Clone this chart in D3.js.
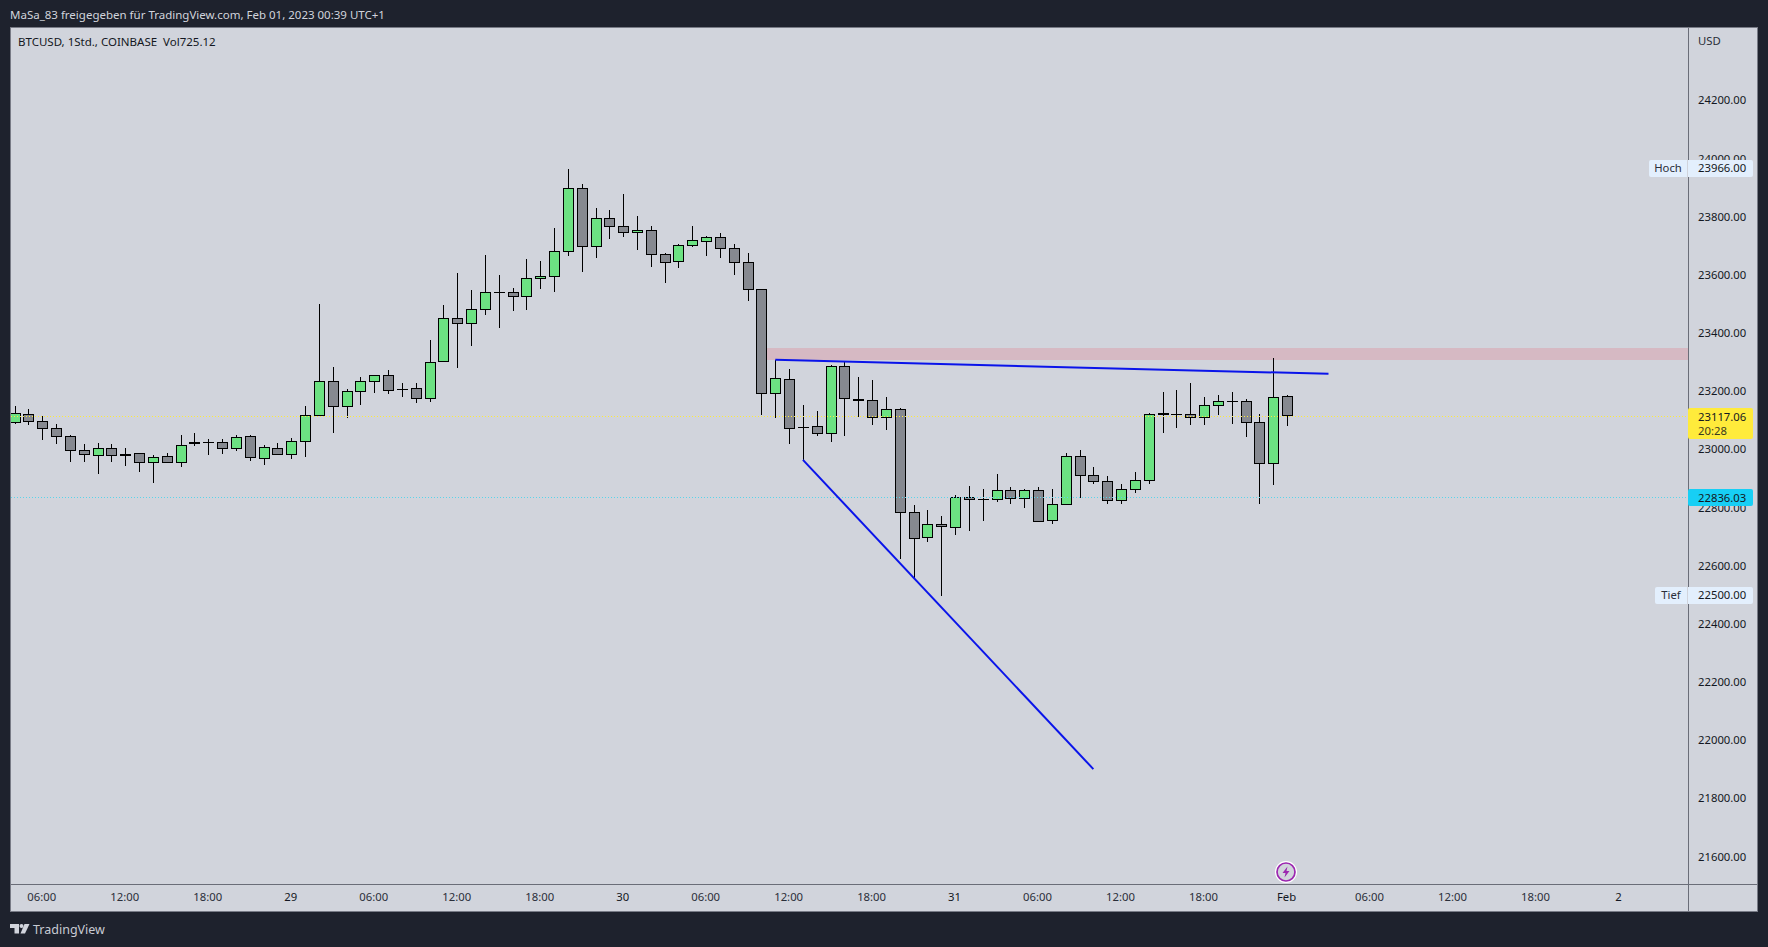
<!DOCTYPE html>
<html>
<head>
<meta charset="utf-8">
<title>BTCUSD 1Std.</title>
<script src="https://cdn.jsdelivr.net/npm/d3@7"></script>
<style>
	html, body { margin: 0; padding: 0; background: #1e222d; }
	svg { display: block; font-family: "Noto Sans", sans-serif; }
</style>
</head>
<body>
<svg id="chart" width="1768" height="947"></svg>
<script>
// candles, 1 hour each, first one is Jan 28 04:00
var startTime = Date.UTC(2023, 0, 28, 4);
var opens = [23095,23124,23100,23076,23048,23000,22982,23007,22986,22990,
	22958,22979,22958,23020,23028,23028,23006,23048,22971,23007,
	22985,23030,23119,23237,23150,23202,23236,23258,23211,23213,
	23178,23303,23454,23436,23484,23543,23543,23528,23590,23597,
	23683,23901,23700,23798,23770,23746,23756,23674,23649,23704,
	23717,23732,23695,23646,23554,23195,23244,23079,23083,23057,
	23289,23178,23172,23110,23141,22787,22700,22746,22734,22839,
	22832,22830,22863,22834,22863,22758,22813,22979,22914,22894,
	22827,22865,22896,23128,23124,23124,23112,23154,23169,23169,
	23096,22954,23186];
var highs = [23153,23142,23117,23091,23053,23022,23025,23022,23008,22990,
	22984,22991,23053,23060,23039,23039,23053,23053,23018,23025,
	23043,23153,23503,23287,23211,23252,23258,23276,23232,23232,
	23378,23500,23610,23551,23672,23603,23558,23658,23651,23764,
	23966,23916,23833,23826,23881,23806,23771,23679,23709,23771,
	23737,23747,23709,23679,23554,23311,23280,23156,23135,23293,
	23304,23252,23242,23183,23146,22812,22795,22774,22847,22877,
	22867,22919,22874,22867,22874,22867,22991,23001,22943,22912,
	22884,22926,23128,23201,23208,23232,23183,23190,23201,23177,
	23125,23318,23190];
var lows = [23091,23087,23036,23022,22960,22960,22919,22960,22946,22926,
	22888,22958,22943,23015,22984,22987,22998,22963,22950,22985,
	22970,22977,23119,23060,23111,23156,23197,23194,23183,23163,
	23166,23303,23283,23359,23465,23421,23479,23483,23555,23544,
	23668,23613,23661,23727,23734,23689,23630,23575,23627,23699,
	23668,23661,23603,23514,23122,23111,23022,22967,23049,23029,
	23049,23114,23087,23070,22627,22561,22685,22500,22709,22723,
	22757,22822,22816,22802,22755,22747,22813,22836,22884,22816,
	22816,22853,22884,23060,23077,23087,23087,23122,23091,23046,
	22816,22881,23084];
var closes = [23127,23099,23075,23047,22999,22985,23007,22982,22982,22958,
	22976,22958,23017,23028,23028,23006,23045,22975,23010,22985,
	23031,23120,23237,23150,23203,23237,23258,23205,23206,23178,
	23303,23454,23436,23485,23543,23543,23528,23591,23598,23684,
	23901,23700,23798,23769,23746,23756,23673,23645,23705,23722,
	23732,23693,23645,23552,23195,23248,23075,23079,23057,23289,
	23178,23171,23110,23141,22786,22696,22746,22738,22839,22830,
	22832,22863,22834,22863,22755,22814,22979,22913,22892,22827,
	22866,22897,23124,23123,23124,23112,23155,23169,23169,23095,
	22954,23182,23117];

var priceTicks = [24200,24000,23800,23600,23400,23200,23000,22800,22600,22400,22200,22000,21800,21600];
var timeTicks = ["2023-01-28T06:00Z","2023-01-28T12:00Z","2023-01-28T18:00Z","2023-01-29T00:00Z","2023-01-29T06:00Z",
	"2023-01-29T12:00Z","2023-01-29T18:00Z","2023-01-30T00:00Z","2023-01-30T06:00Z","2023-01-30T12:00Z",
	"2023-01-30T18:00Z","2023-01-31T00:00Z","2023-01-31T06:00Z","2023-01-31T12:00Z","2023-01-31T18:00Z",
	"2023-02-01T00:00Z","2023-02-01T06:00Z","2023-02-01T12:00Z","2023-02-01T18:00Z","2023-02-02T00:00Z"];
var timeLabels = ["06:00","12:00","18:00","29","06:00","12:00","18:00","30","06:00","12:00",
	"18:00","31","06:00","12:00","18:00","Feb","06:00","12:00","18:00","2"];

// drawings: [hours after startTime, price]
var resistanceLine = [[55, 23311], [95, 23263]];
var supportLine = [[57, 22967], [78, 21904]];
var zoneTop = 23352, zoneBottom = 23311, zoneStart = 54;

var lastPrice = 23117.06, countdown = "20:28", lowLevel = 22836.03;
var highPrice = 23966, lowPrice = 22500;

var fmt = d3.format(".2f");
var paneLeft = 11, paneRight = 1688, paneTop = 28, paneBottom = 884, axisRight = 1757, axisBottom = 911;
var axisFont = 11.3;

var x = d3.scaleUtc()
	.domain([new Date("2023-01-28T06:00Z"), new Date("2023-02-01T00:00Z")])
	.range([42.3, 1287]);
var y = d3.scaleLinear().domain([21600, 24200]).range([857.5, 101.3]);
function timeAt(h) { return new Date(startTime + h * 3600000); }

var svg = d3.select("#chart");
svg.append("rect").attr("x", paneLeft - 1).attr("y", paneTop - 1)
	.attr("width", axisRight - paneLeft + 2).attr("height", axisBottom - paneTop + 2)
	.attr("fill", "#787b86");
svg.append("rect").attr("x", paneLeft).attr("y", paneTop)
	.attr("width", axisRight - paneLeft).attr("height", axisBottom - paneTop)
	.attr("fill", "#d1d4dc");

svg.append("defs").append("clipPath").attr("id", "pane").append("rect")
	.attr("x", paneLeft).attr("y", paneTop)
	.attr("width", paneRight - paneLeft).attr("height", paneBottom - paneTop);
var pane = svg.append("g").attr("clip-path", "url(#pane)");

// zone behind candles
pane.append("rect")
	.attr("x", Math.round(x(timeAt(zoneStart))))
	.attr("y", Math.round(y(zoneTop)))
	.attr("width", paneRight - Math.round(x(timeAt(zoneStart))))
	.attr("height", Math.round(y(zoneBottom)) - Math.round(y(zoneTop)))
	.attr("fill", "#f23645").attr("opacity", 0.17);

var candles = pane.selectAll("g.candle").data(opens).enter().append("g").attr("class", "candle");
candles.each(function(o, i) {
	var g = d3.select(this);
	var cx = Math.round(x(timeAt(i)));
	var yTop = Math.round(y(Math.max(o, closes[i])));
	var yBot = Math.round(y(Math.min(o, closes[i])));
	var h = Math.max(1, yBot - yTop);
	g.append("rect").attr("x", cx).attr("width", 1)
		.attr("y", Math.round(y(highs[i])))
		.attr("height", Math.round(y(lows[i])) - Math.round(y(highs[i])))
		.attr("fill", "#000");
	g.append("rect").attr("x", cx - 5).attr("width", 11).attr("y", yTop).attr("height", h).attr("fill", "#000");
	if (h > 2) {
		g.append("rect").attr("x", cx - 4).attr("width", 9).attr("y", yTop + 1).attr("height", h - 2)
			.attr("fill", closes[i] > o ? "#6ce282" : "#868990");
	}
});

// price lines
function priceLine(p, color) {
	var py = Math.floor(y(p) - 0.1) + 0.5;
	pane.append("line").attr("x1", paneLeft).attr("x2", paneRight)
		.attr("y1", py).attr("y2", py)
		.attr("stroke", color).attr("stroke-dasharray", "1 2");
}
priceLine(lastPrice, "#ffeb3b");
priceLine(lowLevel, "#5ad4ea");

// trend lines
var trend = d3.line().x(function(d) { return x(timeAt(d[0])); }).y(function(d) { return y(d[1]); });
[resistanceLine, supportLine].forEach(function(l) {
	pane.append("path").attr("d", trend(l)).attr("fill", "none")
		.attr("stroke", "#0a14ea").attr("stroke-width", 2);
});

// right axis
svg.append("g").attr("transform", "translate(" + paneRight + ",-1)")
	.call(d3.axisRight(y).tickValues(priceTicks).tickFormat(fmt).tickSize(0).tickPadding(10))
	.call(function(g) { g.select(".domain").remove(); })
	.selectAll("text").attr("font-size", axisFont).attr("font-family", "Noto Sans").attr("fill", "#131722");

// bottom axis
svg.append("g").attr("transform", "translate(-1," + (paneBottom + 1) + ")")
	.call(d3.axisBottom(x).tickValues(timeTicks.map(function(d) { return new Date(d); }))
		.tickFormat(function(d, i) { return timeLabels[i]; }).tickSize(0).tickPadding(8))
	.call(function(g) { g.select(".domain").remove(); })
	.selectAll("text").attr("font-size", axisFont).attr("font-family", "Noto Sans")
	.attr("fill", function(d, i) { return timeLabels[i].indexOf(":") < 0 ? "#131722" : "#2a2e39"; });

// axis border lines
svg.append("rect").attr("x", paneRight).attr("y", paneTop).attr("width", 1).attr("height", axisBottom - paneTop).attr("fill", "#6a6d78");
svg.append("rect").attr("x", paneLeft).attr("y", paneBottom).attr("width", axisRight - paneLeft).attr("height", 1).attr("fill", "#6a6d78");

function label(t, px, py, size, color, anchor) {
	return svg.append("text").text(t).attr("x", px).attr("y", py).attr("font-size", size)
		.attr("fill", color).attr("text-anchor", anchor || "start");
}

// side tags
function sideTag(name, value, left) {
	var cy = Math.round(y(value));
	svg.append("rect").attr("x", left).attr("y", cy - 9).attr("width", 1753 - left).attr("height", 17)
		.attr("rx", 2).attr("fill", "#e3effd");
	svg.append("rect").attr("x", 1687).attr("y", cy - 9).attr("width", 1).attr("height", 17).attr("fill", "#d1d4dc");
	label(name, (left + 1687) / 2, cy + 3, axisFont, "#2a2e39", "middle");
	label(fmt(value), 1698, cy + 3, axisFont, "#131722");
}
sideTag("Hoch", highPrice, 1649);
sideTag("Tief", lowPrice, 1655);

svg.append("rect").attr("x", 1688).attr("y", 408).attr("width", 65).attr("height", 31).attr("rx", 2).attr("fill", "#ffeb3b");
label(fmt(lastPrice), 1698, 420.5, axisFont, "#131722");
label(countdown, 1698, 435, axisFont, "#3a3a20");
svg.append("rect").attr("x", 1688).attr("y", 489).attr("width", 65).attr("height", 17).attr("rx", 2).attr("fill", "#17cff5");
label(fmt(lowLevel), 1698, 501.5, axisFont, "#131722");

label("USD", 1698, 45, axisFont, "#2a2e39");
label("BTCUSD, 1Std., COINBASE  Vol725.12", 18, 46, 11.5, "#131722").attr("xml:space", "preserve");
label("MaSa_83 freigegeben für TradingView.com, Feb 01, 2023 00:39 UTC+1", 10, 19, 11.5, "#d1d4dc");
label("TradingView", 33, 934, 12.5, "#c8cbd3");

// logo
var logo = svg.append("g").attr("fill", "#d1d4dc").attr("transform", "translate(10,924)");
logo.append("path").attr("d", "M0 0H9V9.5H4.5V4H0Z");
logo.append("circle").attr("cx", 11.5).attr("cy", 2).attr("r", 2);
logo.append("path").attr("d", "M14.5 0H19.5L15 9.5H10.5Z");

// lightning marker at the day break
var mark = svg.append("g").attr("transform", "translate(" + (x(new Date("2023-02-01T00:00Z")) - 1) + ",872)");
mark.append("circle").attr("r", 11).attr("fill", "#fff");
mark.append("circle").attr("r", 9).attr("fill", "#d1d4dc").attr("stroke", "#9c27b0").attr("stroke-width", 1.7);
mark.append("path").attr("d", "M1.5 -5.5L-3.5 1H-0.5L-1.5 5.5L3.5 -1H0.5Z").attr("fill", "#9c27b0");
</script>
</body>
</html>
